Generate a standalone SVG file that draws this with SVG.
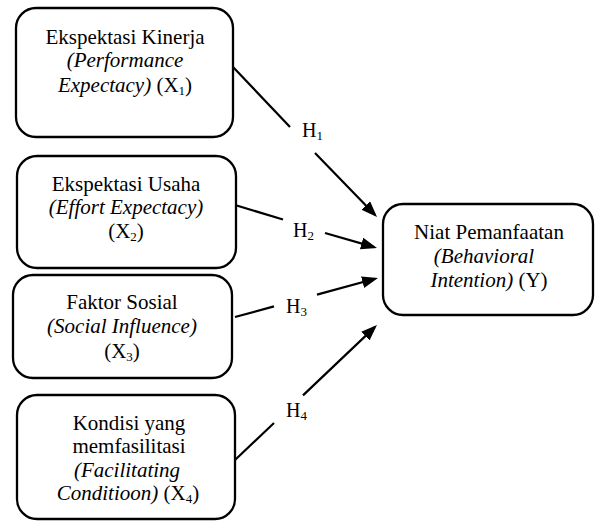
<svg xmlns="http://www.w3.org/2000/svg" width="596" height="523" viewBox="0 0 596 523">
<style>
.box{fill:#fff;stroke:#000;stroke-width:2.3}
.t{font-family:"Liberation Serif","Times New Roman",serif;font-size:21px;fill:#000;text-anchor:middle}
.i{font-style:italic}
.h{font-family:"Liberation Serif","Times New Roman",serif;font-size:20px;fill:#000}
.sub{font-size:13px}
.c{fill:none;stroke:#000;stroke-width:2.2}
</style>
<defs>
<marker id="arr" markerUnits="userSpaceOnUse" markerWidth="18" markerHeight="14" refX="13" refY="6" orient="auto">
<path d="M0,0 L16,6 L0,12 z" fill="#000"/>
</marker>
</defs>
<rect width="596" height="523" fill="#fff"/>
<g id="connectors">
<path class="c" d="M233,67 L290,127 M315,153 L374.9,214.8" marker-end="url(#arr)"/>
<path class="c" d="M235,205 L283,219.5 M325,233 L374.1,247.1" marker-end="url(#arr)"/>
<path class="c" d="M235,317 L274,306.4 M317,294.6 L375.1,278.8" marker-end="url(#arr)"/>
<path class="c" d="M235,460 L274,423 M303,395.4 L374.8,327.1" marker-end="url(#arr)"/>
</g>
<g id="labels">
<text class="h" x="302" y="137">H<tspan class="sub" dy="3">1</tspan></text>
<text class="h" x="293" y="237">H<tspan class="sub" dy="3">2</tspan></text>
<text class="h" x="286" y="313">H<tspan class="sub" dy="3">3</tspan></text>
<text class="h" x="286" y="417">H<tspan class="sub" dy="3">4</tspan></text>
</g>
<g id="x1">
<rect class="box" x="16" y="8" width="217" height="129" rx="20"/>
<text class="t" x="125" y="44">Ekspektasi Kinerja</text>
<text class="t i" x="125" y="67">(Performance</text>
<text class="t" x="125" y="92"><tspan class="i">Expectacy)</tspan> (X<tspan class="sub" dy="3">1</tspan><tspan dy="-3">)</tspan></text>
</g>
<g id="x2">
<rect class="box" x="17" y="156" width="219" height="112" rx="20"/>
<text class="t" x="126" y="191">Ekspektasi Usaha</text>
<text class="t i" x="126" y="214">(Effort Expectacy)</text>
<text class="t" x="126" y="238">(X<tspan class="sub" dy="3">2</tspan><tspan dy="-3">)</tspan></text>
</g>
<g id="x3">
<rect class="box" x="13" y="275" width="219" height="103" rx="20"/>
<text class="t" x="122" y="309">Faktor Sosial</text>
<text class="t i" x="122" y="333">(Social Influence)</text>
<text class="t" x="122" y="358">(X<tspan class="sub" dy="3">3</tspan><tspan dy="-3">)</tspan></text>
</g>
<g id="x4">
<rect class="box" x="17" y="395" width="218" height="124" rx="20"/>
<text class="t" x="129" y="430">Kondisi yang</text>
<text class="t" x="129" y="453">memfasilitasi</text>
<text class="t i" x="127" y="477">(Facilitating</text>
<text class="t" x="128" y="500"><tspan class="i">Conditioon)</tspan> (X<tspan class="sub" dy="3">4</tspan><tspan dy="-3">)</tspan></text>
</g>
<g id="y">
<rect class="box" x="383" y="204" width="210" height="111" rx="20"/>
<text class="t" x="489" y="239">Niat Pemanfaatan</text>
<text class="t i" x="484" y="263">(Behavioral</text>
<text class="t" x="489" y="287"><tspan class="i">Intention)</tspan> (Y)</text>
</g>
</svg>
